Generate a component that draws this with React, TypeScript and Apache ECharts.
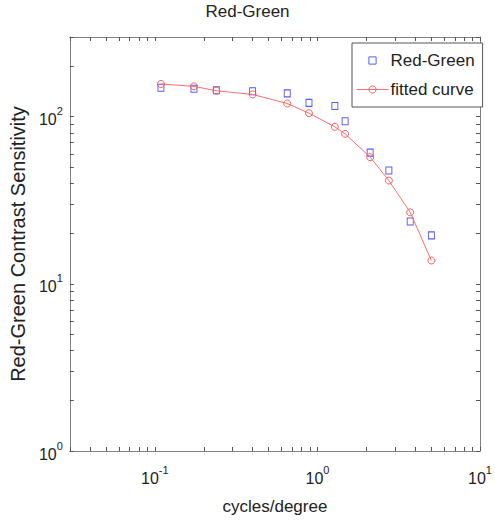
import React, { useEffect, useRef } from 'react';
import * as echarts from 'echarts';

const seriesNames = ['Red-Green', 'fitted curve'];
const freq = [0.109, 0.174, 0.239, 0.399, 0.652, 0.887, 1.28, 1.48, 2.11, 2.75, 3.72, 5.02];
const measured = [149, 147, 144, 142, 138, 121, 116, 94, 61, 47.7, 23.6, 19.5];
const fitted = [157, 152, 143, 136, 120, 105, 87, 79, 57.3, 41.5, 26.8, 13.8];

const xMajor = [0.1, 1, 10];
const yMajor = [1, 10, 100];
const xTicks = [0.03, 0.04, 0.05, 0.06, 0.07, 0.08, 0.09, 0.1, 0.2, 0.3, 0.4, 0.5, 0.6, 0.7, 0.8, 0.9, 1, 2, 3, 4, 5, 6, 7, 8, 9, 10];
const yTicks = [1, 2, 3, 4, 5, 6, 7, 8, 9, 10, 20, 30, 40, 50, 60, 70, 80, 90, 100, 200, 300];

export default function App() {
  const ref = useRef<HTMLDivElement>(null);
  useEffect(() => {
    const chart = echarts.init(ref.current!, null, { renderer: 'svg' });
    const font = 'Liberation Sans, Arial, Helvetica, sans-serif';
    const axisColor = '#808080';
    const fmt = (v: number) => `{b|10}{s|${Math.round(Math.log10(v))}}`;
    const rich = {
      b: { fontSize: 16, lineHeight: 22, verticalAlign: 'bottom', fontFamily: font, color: '#222' },
      s: { fontSize: 11, lineHeight: 6, verticalAlign: 'top', fontFamily: font, color: '#222' },
    };
    const baseX = (pos: 'bottom' | 'top', labels: boolean) => ({
      type: 'log',
      logBase: 10,
      min: 0.03,
      max: 10,
      position: pos,
      axisLine: { show: true, lineStyle: { color: axisColor, width: 1 } },
      axisTick: { show: true, inside: true, length: 4, customValues: xTicks, lineStyle: { color: '#555' } },
      axisLabel: labels
        ? { show: true, customValues: xMajor, formatter: fmt, rich, margin: 13, showMaxLabel: true }
        : { show: false },
      splitLine: { show: false },
      minorTick: { show: false },
    });
    const baseY = (pos: 'left' | 'right', labels: boolean) => ({
      type: 'log',
      logBase: 10,
      min: 1,
      max: 300,
      position: pos,
      axisLine: { show: true, lineStyle: { color: axisColor, width: 1 } },
      axisTick: { show: true, inside: true, length: 4, customValues: yTicks, lineStyle: { color: '#555' } },
      axisLabel: labels
        ? { show: true, customValues: yMajor, formatter: fmt, rich, margin: 7 }
        : { show: false },
      splitLine: { show: false },
      minorTick: { show: false },
    });
    const xAxis0: any = {
      ...baseX('bottom', true),
      name: 'cycles/degree',
      nameLocation: 'middle',
      nameGap: 47,
      nameTextStyle: { fontSize: 17, fontFamily: font, color: '#222' },
    };
    const yAxis0: any = {
      ...baseY('left', true),
      name: 'Red-Green Contrast Sensitivity',
      nameLocation: 'middle',
      nameGap: 37,
      nameTextStyle: { fontSize: 20, fontFamily: font, color: '#222' },
    };
    chart.setOption({
      animation: false,
      backgroundColor: '#fff',
      title: {
        text: 'Red-Green',
        left: 'center',
        top: 3,
        padding: 0,
        textStyle: { fontSize: 17, fontWeight: 'normal', fontFamily: font, color: '#222' },
      },
      grid: { left: 65, top: 37, right: 9, bottom: 74, containLabel: false },
      legend: {
        data: seriesNames,
        orient: 'vertical',
        left: 352,
        top: 43,
        padding: [9, 8, 9, 4],
        itemGap: 12,
        itemWidth: 32,
        itemHeight: 9,
        borderColor: '#555',
        borderWidth: 1,
        backgroundColor: '#fff',
        itemStyle: { borderWidth: 1 },
        lineStyle: { width: 1 },
        textStyle: { fontSize: 17, fontFamily: font, color: '#222', padding: [0, 0, 0, -3] },
      },
      xAxis: [xAxis0, baseX('top', false)],
      yAxis: [yAxis0, baseY('right', false)],
      series: [
        {
          name: seriesNames[0],
          type: 'line',
          data: freq.map((f, i) => [f, measured[i]]),
          symbol: 'rect',
          symbolSize: [6, 7],
          itemStyle: { color: 'rgba(255,255,255,0)', borderColor: '#5a5aff', borderWidth: 1 },
          lineStyle: { opacity: 0, width: 0 },
          xAxisIndex: 0,
          yAxisIndex: 0,
          z: 2,
        },
        {
          name: seriesNames[1],
          type: 'line',
          data: freq.map((f, i) => [f, fitted[i]]),
          symbol: 'circle',
          symbolSize: 7,
          itemStyle: { color: 'rgba(255,255,255,0)', borderColor: '#ff5e5e', borderWidth: 1 },
          lineStyle: { color: '#ff6e6e', width: 1 },
          xAxisIndex: 0,
          yAxisIndex: 0,
          z: 3,
        },
      ],
    } as any);
    return () => chart.dispose();
  }, []);
  return (
    <div
      ref={ref}
      style={{ position: 'fixed', left: 0, top: 0, width: 495, height: 525, background: '#fff' }}
    />
  );
}
